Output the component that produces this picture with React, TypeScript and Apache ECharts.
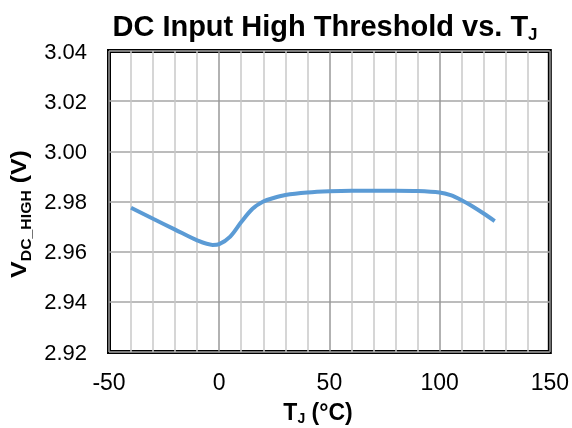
import React, { useEffect, useRef } from "react";
import * as echarts from "echarts";

const temps = [-40, -30, -20, -10, -3, 0, 5, 10, 15, 20, 25, 30, 40, 50, 60, 70, 80, 90, 100, 105, 110, 115, 120, 125];
const vdcHigh = [2.9775, 2.9731, 2.9688, 2.9645, 2.9627, 2.963, 2.966, 2.9718, 2.977, 2.98, 2.9815, 2.9826, 2.9836, 2.9841, 2.9843, 2.9843, 2.9843, 2.9842, 2.9836, 2.9825, 2.9805, 2.978, 2.9752, 2.9722];
const xTicks = [-50, 0, 50, 100, 150];
const yTicks = [2.92, 2.94, 2.96, 2.98, 3.0, 3.02, 3.04];

const FONT = "'Liberation Sans', Arial, sans-serif";

export default function App() {
  const ref = useRef<HTMLDivElement>(null);
  useEffect(() => {
    const chart = echarts.init(ref.current!, null, { renderer: "svg" });
    chart.setOption({
      animation: false,
      grid: {
        left: 109,
        right: 21,
        top: 51,
        bottom: 76,
        show: true,
        borderColor: "#000",
        borderWidth: 4,
        backgroundColor: "transparent",
      },
      xAxis: {
        type: "value",
        min: xTicks[0],
        max: xTicks[xTicks.length - 1],
        interval: 50,
        axisLine: { show: false },
        axisTick: { show: false },
        axisLabel: { fontFamily: FONT, fontSize: 23, color: "#000", margin: 18 },
        splitLine: { show: true, lineStyle: { color: "#999", width: 1.5 } },
        minorTick: { show: false, splitNumber: 5 },
        minorSplitLine: { show: true, lineStyle: { color: "#c8c8c8", width: 1.5 } },
      },
      yAxis: {
        type: "value",
        min: yTicks[0],
        max: yTicks[yTicks.length - 1],
        interval: 0.02,
        axisLine: { show: false },
        axisTick: { show: false },
        axisLabel: {
          fontFamily: FONT,
          fontSize: 22,
          color: "#000",
          margin: 22,
          formatter: (v: number) => v.toFixed(2),
        },
        splitLine: { show: true, lineStyle: { color: "#a6a6a6", width: 1.5 } },
      },
      series: [
        {
          type: "line",
          data: temps.map((t, i) => [t, vdcHigh[i]]),
          smooth: 0.3,
          showSymbol: false,
          lineStyle: { color: "#5B9BD5", width: 4 },
        },
      ],
      graphic: [
        {
          type: "text",
          x: 325,
          y: 25.5,
          style: {
            text: "{a|DC Input High Threshold vs. T}{s|J}",
            align: "center",
            verticalAlign: "middle",
            rich: {
              a: { fontFamily: FONT, fontSize: 29, fontWeight: "bold", fill: "#000", lineHeight: 34, verticalAlign: "middle" },
              s: { fontFamily: FONT, fontSize: 17, fontWeight: "bold", fill: "#000", lineHeight: 17, verticalAlign: "bottom" },
            },
          },
        },
        {
          type: "text",
          x: 318,
          y: 412,
          style: {
            text: "{a|T}{s|J}{a| (°C)}",
            align: "center",
            verticalAlign: "middle",
            rich: {
              a: { fontFamily: FONT, fontSize: 23, fontWeight: "bold", fill: "#000", lineHeight: 25, verticalAlign: "middle" },
              s: { fontFamily: FONT, fontSize: 14, fontWeight: "bold", fill: "#000", lineHeight: 14, verticalAlign: "bottom" },
            },
          },
        },
        {
          type: "text",
          x: 19,
          y: 214,
          rotation: Math.PI / 2,
          scaleX: 1.13,
          style: {
            text: "{a|V}{s|DC_HIGH}{a| (V)}",
            align: "center",
            verticalAlign: "middle",
            rich: {
              a: { fontFamily: FONT, fontSize: 22, fontWeight: "bold", fill: "#000", lineHeight: 28, verticalAlign: "middle" },
              s: { fontFamily: FONT, fontSize: 14, fontWeight: "bold", fill: "#000", lineHeight: 14, verticalAlign: "bottom" },
            },
          },
        },
      ],
    });
    return () => chart.dispose();
  }, []);
  return <div ref={ref} style={{ position: "fixed", left: 0, top: 0, width: 572, height: 428 }} />;
}
